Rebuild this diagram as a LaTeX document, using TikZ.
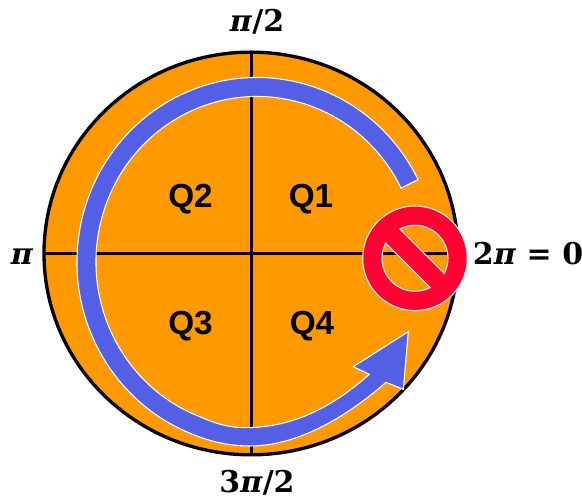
\documentclass[tikz,border=0pt]{standalone}
\usepackage{fontspec}
\setmainfont{Liberation Sans}
\newfontfamily\angleFont{DejaVu Serif}
\definecolor{discOrange}{HTML}{FF9900}
\definecolor{ringBlue}{HTML}{5360E6}
\definecolor{stopRed}{HTML}{FF0033}
\usetikzlibrary{calc, shapes.geometric}
\tikzset{
  quadLabel/.style={font=\fontsize{25}{30}\selectfont\bfseries, inner sep=0pt},
  angleLabel/.style={font=\fontsize{22.5}{27}\selectfont\angleFont\bfseries, inner sep=0pt}
}
\newcommand{\bi}[1]{\textit{#1}}

\begin{document}
\begin{tikzpicture}[x=0.75pt, y=0.75pt]
      \useasboundingbox (0,0) rectangle (582,502);
      \node[ellipse, fill=discOrange, draw=black, line width=2.5pt, minimum width=310.5pt, minimum height=302pt, inner sep=0pt, outer sep=0pt] (disc) at (251,248.5) {};
      \draw[line width=2.25pt] (disc.north) -- (disc.south);
      \draw[line width=2.25pt] (disc.west) -- (disc.east);

      \node[quadLabel] (q1) at (311,303) {Q1};
      \node[quadLabel] (q2) at (190.5,303) {Q2};
      \node[quadLabel] (q3) at (190.5,176) {Q3};
      \node[quadLabel] (q4) at (312,176) {Q4};

      \node[angleLabel] (top) at (257,480) {\bi{π}/2};
      \node[angleLabel] (left) at (22,245) {\bi{π}};
      \node[angleLabel] (right) at (528,248) {2\bi{π} = 0};
      \node[angleLabel] (bottom) at (257,19) {3\bi{π}/2};

      % ring and arrow
      \coordinate (ringc) at (257,240);
      \fill[ringBlue, draw=white, line width=0.8pt, line join=miter]
        ($(ringc)+(26.5:180 and 184.5)$) arc[start angle=26.5, end angle=250, x radius=180, y radius=184.5]
        .. controls (213,59.5) and (232,56) .. (250,56)
        .. controls (300,56) and (350,88) .. (386,119.7)
        -- (403.3,112.7) -- (408.3,170.3) -- (353.3,135.3) -- (369.3,127.7)
        .. controls (335,97) and (295,74.3) .. (245,74.3)
        .. controls (228,74.3) and (214,79) .. ($(ringc)+(250:161 and 165.5)$)
        arc[start angle=250, end angle=26.5, x radius=161, y radius=165.5]
        -- cycle;

      % stop sign
      \coordinate (stopc) at (415,243.7);
      \fill[stopRed, draw=white, line width=0.8pt, even odd rule]
        (stopc) circle[radius=52.3]
        ($(stopc)+(-27.4:33)$) arc[start angle=-27.4, end angle=117.4, radius=33] -- cycle
        ($(stopc)+(152.6:33)$) arc[start angle=152.6, end angle=297.4, radius=33] -- cycle;
    \end{tikzpicture}
\end{document}
